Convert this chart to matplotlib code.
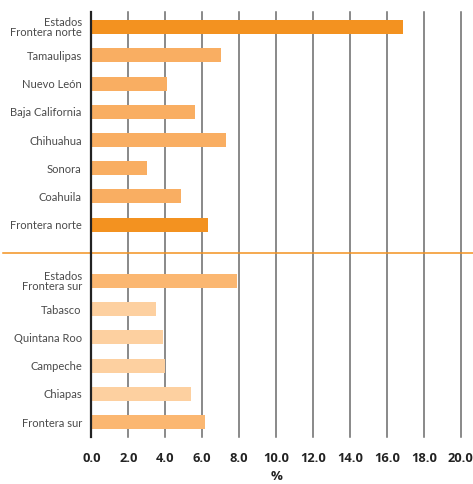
import matplotlib.pyplot as plt

# Northern border states (top block) and southern border states (bottom block)
norte_labels = ["Estados\nFrontera norte", "Tamaulipas", "Nuevo León", "Baja California",
                "Chihuahua", "Sonora", "Coahuila", "Frontera norte"]
norte_values = [16.9, 7.0, 4.1, 5.6, 7.3, 3.0, 4.85, 6.3]

sur_labels = ["Estados\nFrontera sur", "Tabasco", "Quintana Roo", "Campeche",
              "Chiapas", "Frontera sur"]
sur_values = [7.9, 3.5, 3.9, 4.0, 5.4, 6.15]

x_ticks = [0, 2, 4, 6, 8, 10, 12, 14, 16, 18, 20]

dark = "#F39220"
mid = "#F9AE62"
sur_total = "#FBB771"
light = "#FDD0A0"
norte_colors = [dark] + [mid] * 6 + [dark]
sur_colors = [sur_total] + [light] * 4 + [sur_total]

# one empty row separates the two blocks
y_norte = list(range(len(norte_values)))
gap_row = len(norte_values)
y_sur = [gap_row + 1 + i for i in range(len(sur_values))]

fig = plt.figure(figsize=(4.73, 4.84), dpi=100)
ax = fig.add_axes([0.1934, 0.0977, 0.7806, 0.8775])

ax.barh(y_norte, norte_values, height=0.5, color=norte_colors, zorder=3)
ax.barh(y_sur, sur_values, height=0.5, color=sur_colors, zorder=3)

ax.set_xlim(0, 20)
ax.set_ylim(y_sur[-1] + 0.52, -0.54)

for xv in x_ticks[1:]:
    ax.axvline(xv, color="#6a6a6a", lw=1.1, zorder=1, clip_on=False)

# separator between north and south
ax.plot([-4.8, 20.8], [gap_row, gap_row], color=dark, lw=1.1, zorder=4, clip_on=False)

for s in ["top", "right", "bottom"]:
    ax.spines[s].set_visible(False)
ax.spines["left"].set_color("#222222")
ax.spines["left"].set_linewidth(1.6)
ax.spines["left"].set_zorder(5)

ax.set_yticks(y_norte + y_sur)
ax.set_yticklabels(norte_labels + sur_labels, family="Lato",
                   fontsize=8, color="#4a4a4a", linespacing=0.9)
ax.tick_params(axis="y", length=0, pad=7)

ax.set_xticks(x_ticks)
ax.set_xticklabels([f"{v:.1f}" for v in x_ticks], fontsize=9.3, fontweight="bold",
                   color="#222222", family="Open Sans")
ax.tick_params(axis="x", length=0, pad=11)
ax.set_xlabel("%", fontsize=9.5, fontweight="bold", color="#222222", family="Open Sans",
              labelpad=3.5)

fig.savefig("out.png", dpi=100)
